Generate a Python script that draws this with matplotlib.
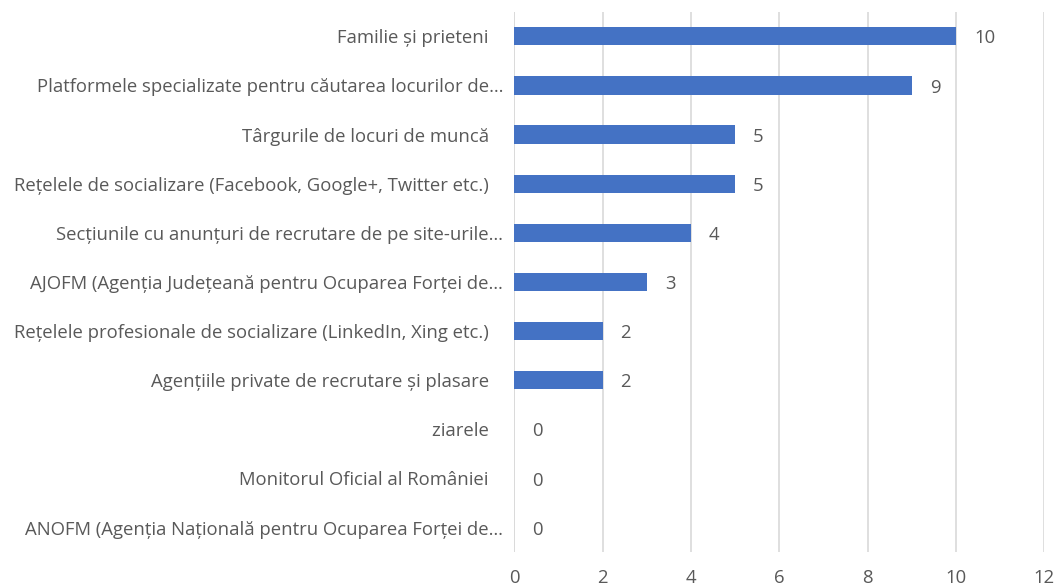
import numpy as np
import matplotlib.pyplot as plt

categories = [
    "Familie și prieteni   ",
    "Platformele specializate pentru căutarea locurilor de…",
    "Târgurile de locuri de muncă   ",
    "Rețelele de socializare (Facebook, Google+, Twitter etc.)   ",
    "Secțiunile cu anunțuri de recrutare de pe site-urile…",
    "AJOFM (Agenția Județeană pentru Ocuparea Forței de…",
    "Rețelele profesionale de socializare (LinkedIn, Xing etc.)   ",
    "Agențiile private de recrutare și plasare   ",
    "ziarele   ",
    "Monitorul Oficial al României   ",
    "ANOFM (Agenția Națională pentru Ocuparea Forței de…",
]
values = [10, 9, 5, 5, 4, 3, 2, 2, 0, 0, 0]
xticks = [0, 2, 4, 6, 8, 10, 12]

plt.rcParams['font.family'] = ['Open Sans', 'DejaVu Sans']
text_color = '#595959'
grid_color = '#D9D9D9'
fs = 13.3

fig = plt.figure(figsize=(10.58, 5.88), dpi=100)
ax = fig.add_axes([0.486, 0.061, 0.501, 0.919])

y = np.arange(len(categories))
ax.barh(y, values, height=0.37, color='#4472C4', zorder=3)

for yi, v in zip(y, values):
    ax.annotate(str(v), (v, yi), xytext=(13, -1.5), textcoords='offset points',
                va='center', ha='left', fontsize=fs, color=text_color)

ax.set_xlim(0, 12)
ax.set_ylim(len(categories) - 0.5, -0.5)
ax.set_xticks(xticks)
ax.set_xticklabels([str(t) for t in xticks], fontsize=fs, color=text_color)
ax.set_yticks(y)
ax.set_yticklabels(categories, fontsize=fs, color=text_color)
ax.tick_params(axis='both', length=0)
ax.tick_params(axis='x', pad=12)
ax.tick_params(axis='y', pad=8)

ax.grid(axis='x', color=grid_color, linewidth=1.2, zorder=0)
for s in ax.spines.values():
    s.set_visible(False)
ax.axvline(0, color=grid_color, linewidth=1.2, zorder=1)

fig.savefig('out.png', dpi=100, facecolor='w')
